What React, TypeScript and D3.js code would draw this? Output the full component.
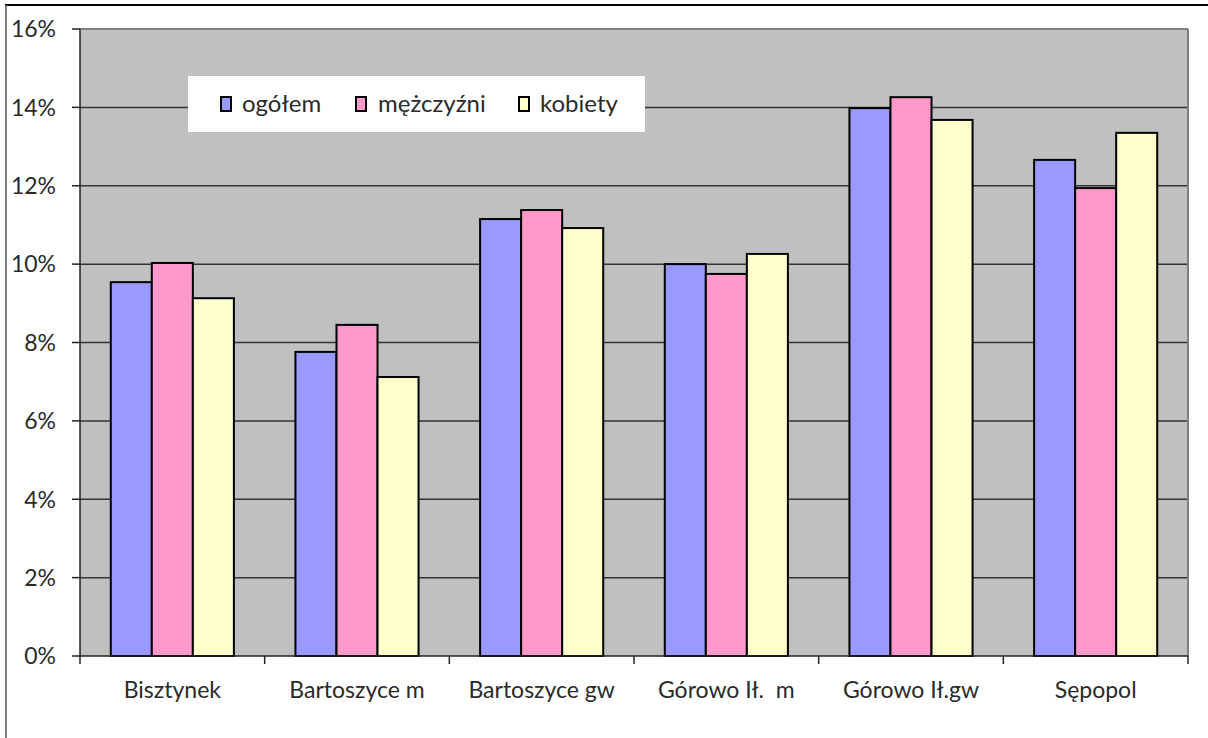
import React from "react";
import * as d3 from "d3";

const categories = ["Bisztynek", "Bartoszyce m", "Bartoszyce gw", "Górowo Ił.  m", "Górowo Ił.gw", "Sępopol"];
const seriesNames = ["ogółem", "mężczyźni", "kobiety"];
const ogolem = [9.54, 7.76, 11.15, 10.0, 13.98, 12.66];
const mezczyzni = [10.03, 8.45, 11.38, 9.75, 14.26, 11.94];
const kobiety = [9.13, 7.12, 10.92, 10.26, 13.68, 13.35];
const yTicks = [0, 2, 4, 6, 8, 10, 12, 14, 16];
const colors = ["#9999FF", "#FF99CC", "#FFFFCC"];

const W = 1208, H = 738;
const L = 80, R = 1188, T = 29, B = 656;
const FONT = "Lato, 'Open Sans', sans-serif";

export default function App() {
  const series = [ogolem, mezczyzni, kobiety];
  const x = d3.scaleBand<string>().domain(categories).range([L, R]).paddingInner(0).paddingOuter(0);
  const y = d3.scaleLinear().domain([0, 16]).range([B, T]);
  const bw = x.bandwidth();
  const barW = bw / 4.5;
  const groupOff = (bw - 3 * barW) / 2;
  const legendItems = [
    { sx: 221, tx: 242 },
    { sx: 356, tx: 378 },
    { sx: 519, tx: 540 },
  ];
  return (
    <svg width={W} height={H} style={{ position: "absolute", left: 0, top: 0, background: "#fff" }}>
      <rect x={0} y={0} width={W} height={H} fill="#fff" />
      <line x1={5} y1={5} x2={W} y2={5} stroke="#000" strokeWidth={2} />
      <line x1={6} y1={5} x2={6} y2={H} stroke="#555" strokeWidth={1.5} />
      <rect x={L} y={T} width={R - L} height={B - T} fill="#C0C0C0" />
      {yTicks.filter((t) => t > 0 && t < 16).map((t) => (
        <line key={"g" + t} x1={L} x2={R} y1={y(t)} y2={y(t)} stroke="#333" strokeWidth={1.5} />
      ))}
      <line x1={L} x2={R} y1={T} y2={T} stroke="#808080" strokeWidth={2} />
      <line x1={R} x2={R} y1={T} y2={B} stroke="#808080" strokeWidth={2} />
      {categories.map((c, i) =>
        series.map((s, j) => (
          <rect
            key={c + j}
            x={(x(c) as number) + groupOff + j * barW}
            y={y(s[i])}
            width={barW}
            height={B - y(s[i])}
            fill={colors[j]}
            stroke="#000"
            strokeWidth={2}
          />
        ))
      )}
      <line x1={L} x2={L} y1={T} y2={B} stroke="#222" strokeWidth={1.5} />
      <line x1={L} x2={R} y1={B} y2={B} stroke="#222" strokeWidth={1.5} />
      {yTicks.map((t) => (
        <g key={"t" + t}>
          <line x1={L - 8} x2={L} y1={y(t)} y2={y(t)} stroke="#222" strokeWidth={1.5} />
          <text x={56} y={y(t)} dy="0.36em" textAnchor="end" fontFamily={FONT} fontSize={23} fill="#2a2a2a">
            {t}%
          </text>
        </g>
      ))}
      {[...categories.map((c) => x(c) as number), R].map((px, i) => (
        <line key={"xt" + i} x1={px} x2={px} y1={B} y2={B + 8} stroke="#222" strokeWidth={1.5} />
      ))}
      {categories.map((c) => (
        <text key={"xl" + c} x={(x(c) as number) + bw / 2} y={698} textAnchor="middle" fontFamily={FONT} fontSize={23} fill="#2a2a2a" style={{ whiteSpace: "pre" }}>
          {c}
        </text>
      ))}
      <rect x={188} y={76} width={457} height={56} fill="#fff" />
      {seriesNames.map((n, j) => (
        <g key={"lg" + n}>
          <rect x={legendItems[j].sx} y={97} width={10} height={14} fill={colors[j]} stroke="#000" strokeWidth={2} />
          <text x={legendItems[j].tx} y={112} fontFamily={FONT} fontSize={24} fill="#2a2a2a">
            {n}
          </text>
        </g>
      ))}
    </svg>
  );
}
